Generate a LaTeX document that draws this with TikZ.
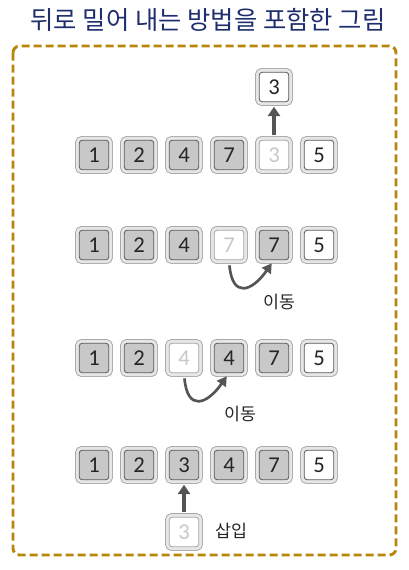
\documentclass[tikz,border=0pt]{standalone}
\usepackage{fontspec}
\newfontfamily\kor{Noto Sans CJK KR}
\newfontfamily\num{Carlito}
\usetikzlibrary{arrows.meta,positioning}
\definecolor{frameline}{HTML}{B8860B}
\definecolor{titleblue}{HTML}{1F2F6E}
\definecolor{cellfill}{HTML}{C8C8C8}
\definecolor{cellline}{HTML}{5A5A5A}
\definecolor{ringfill}{HTML}{E6E6E6}
\definecolor{ringline}{HTML}{A8A8A8}
\definecolor{arrowgray}{HTML}{555555}
\definecolor{fadetext}{HTML}{C8C8C8}

\begin{document}
\begin{tikzpicture}[x=0.75pt,y=-0.75pt,
  cell/.style={minimum size=22pt, inner sep=0pt, rounded corners=2pt,
    draw=cellline, line width=0.6pt, text=black!85,
    font=\num\fontsize{17}{17}\selectfont,
    preaction={draw=ringline, line width=6.4pt},
    preaction={draw=ringfill, line width=5pt}},
  full/.style={fill=cellfill},
  blank/.style={fill=white},
  faded/.style={fill=white, draw=ringline, text=fadetext},
  push/.style={draw=arrowgray, line width=2.6pt, shorten <=3.5pt, shorten >=3.5pt,
    -{Triangle[length=7pt,width=9pt]}},
  shiftarrow/.style={draw=arrowgray, line width=2pt, shorten <=4pt, shorten >=3pt,
    -{Triangle[length=7pt,width=8pt]}},
  note/.style={font=\kor\fontsize{13}{13}\selectfont, text=black!85}]
\useasboundingbox (0,0) rectangle (408,570);

% title and frame
\node[font=\kor\fontsize{19}{19}\selectfont, text=titleblue] (title) at (208,20)
  {뒤로 밀어 내는 방법을 포함한 그림};
\draw[frameline, line width=2.2pt, dash pattern=on 6pt off 3pt, rounded corners=5pt]
  (13,46) rectangle (396,555);

% 3 is taken out
\foreach \v/\k [count=\i] in {1/full,2/full,4/full,7/full,3/faded,5/blank}{
\node[cell,\k] (a\i) at ({49+45*\i},155) {\v};
}
\node[cell,blank] (out) at (274,87) {3};
\draw[push] (a5) -- (out);

% 7 moves right
\foreach \v/\k [count=\i] in {1/full,2/full,4/full,7/faded,7/full,5/blank}{
\node[cell,\k] (b\i) at ({49+45*\i},245) {\v};
}
\draw[shiftarrow] (b4.south) to[out=-85,in=-125,looseness=2.2] (b5.south);
\node[note] (mvb) at (279,302) {이동};

% 4 moves right
\foreach \v/\k [count=\i] in {1/full,2/full,4/faded,4/full,7/full,5/blank}{
\node[cell,\k] (c\i) at ({49+45*\i},358) {\v};
}
\draw[shiftarrow] (c3.south) to[out=-85,in=-125,looseness=2.2] (c4.south);
\node[note] (mvc) at (240,414) {이동};

% 3 goes in
\foreach \v/\k [count=\i] in {1/full,2/full,3/full,4/full,7/full,5/blank}{
\node[cell,\k] (d\i) at ({49+45*\i},465) {\v};
}
\node[cell,faded] (ins) at (184,532) {3};
\draw[push] (ins) -- (d3);
\node[note] (put) at (231,531) {삽입};
\end{tikzpicture}
\end{document}
